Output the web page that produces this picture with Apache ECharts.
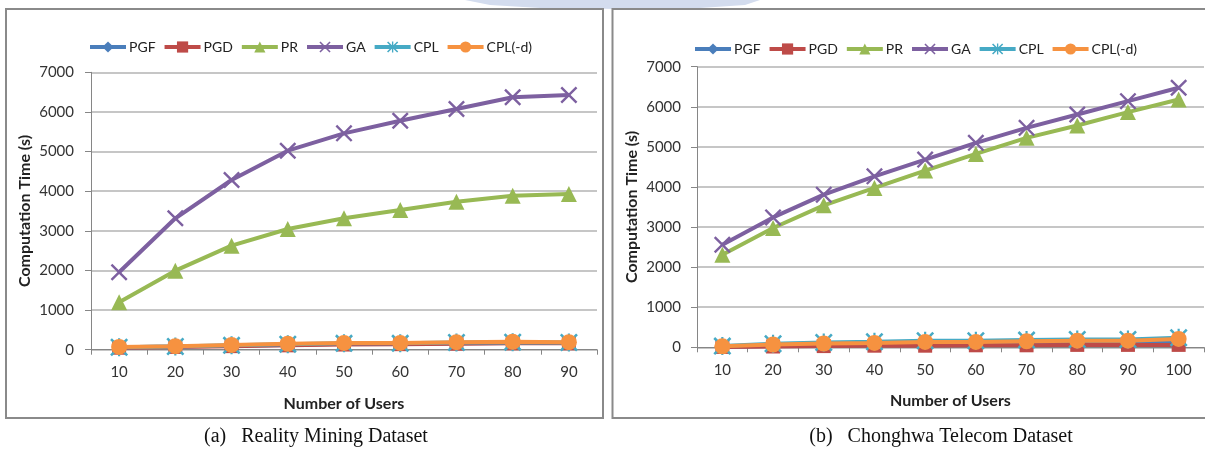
<!DOCTYPE html>
<html>
<head>
<meta charset="utf-8">
<script src="https://cdn.jsdelivr.net/npm/echarts@6/dist/echarts.min.js"></script>
<style>
  html, body { margin: 0; padding: 0; background: #fff; }
  #chart { width: 1205px; height: 452px; }
</style>
</head>
<body>
<div id="chart"></div>
<script>
// categories
var usersA = ['10', '20', '30', '40', '50', '60', '70', '80', '90']
var usersB = ['10', '20', '30', '40', '50', '60', '70', '80', '90', '100']
var seriesNames = ['PGF', 'PGD', 'PR', 'GA', 'CPL', 'CPL(-d)']

// (a) Reality Mining Dataset
var pgfA = [60, 80, 100, 120, 150, 150, 160, 170, 170]
var pgdA = [50, 70, 90, 110, 130, 140, 150, 160, 160]
var prA = [1196, 1994, 2625, 3046, 3316, 3525, 3735, 3886, 3929]
var gaA = [1953, 3316, 4282, 5022, 5460, 5779, 6074, 6369, 6427]
var cplA = [60, 80, 110, 140, 160, 160, 180, 190, 180]
var cpldA = [70, 90, 120, 150, 170, 170, 190, 200, 190]

// (b) Chonghwa Telecom Dataset
var pgfB = [10, 40, 60, 80, 100, 110, 120, 130, 140, 150]
var pgdB = [10, 20, 30, 40, 40, 50, 50, 60, 60, 60]
var prB = [2308, 2975, 3542, 3975, 4408, 4825, 5225, 5533, 5867, 6183]
var gaB = [2558, 3240, 3808, 4265, 4683, 5100, 5475, 5808, 6140, 6475]
var cplB = [30, 90, 120, 140, 165, 165, 180, 195, 195, 240]
var cpldB = [25, 70, 95, 110, 135, 135, 150, 165, 165, 210]

var yTicks = { min: 0, max: 7000, interval: 1000 }

var colors = ['#4A7EBB', '#BE4B48', '#98B954', '#7D60A0', '#46AAC5', '#F69240']
var crossPath = 'path://M0,1L1,0L5,4L9,0L10,1L6,5L10,9L9,10L5,6L1,10L0,9L4,5Z'
var starPath = 'path://M0,1L1,0L10,9L9,10Z M9,0L10,1L1,10L0,9Z M4.4,0L5.6,0L5.6,10L4.4,10Z'
var symbols = ['diamond', 'rect', 'triangle', crossPath, starPath, 'circle']
var symbolSizes = [13, 14, 16, 17, 18, 16]

var fontSans = 'Lato, "Open Sans", sans-serif'

function makeSeries(dataList, idx) {
  return dataList.map(function(d, i) {
    return {
      name: seriesNames[i],
      type: 'line',
      xAxisIndex: idx,
      yAxisIndex: idx,
      data: d,
      symbol: symbols[i],
      symbolSize: symbolSizes[i],
      showAllSymbol: true,
      lineStyle: { width: 4, color: colors[i] },
      itemStyle: { color: colors[i] },
      z: 2 + i
    }
  })
}

function makeX(cats, idx) {
  return {
    type: 'category',
    gridIndex: idx,
    data: cats,
    boundaryGap: true,
    name: 'Number of Users',
    nameLocation: 'middle',
    nameGap: 46,
    nameTextStyle: { fontFamily: fontSans, fontWeight: 'bold', fontSize: 16, color: '#222' },
    axisLine: { lineStyle: { color: '#868686', width: 1 } },
    axisTick: { show: true, length: 5, lineStyle: { color: '#868686' } },
    axisLabel: { margin: 15, fontFamily: fontSans, fontSize: 15, color: '#333' },
    splitLine: { show: false }
  }
}

function makeY(idx, labelMargin, nameGap) {
  return {
    type: 'value',
    gridIndex: idx,
    min: yTicks.min,
    max: yTicks.max,
    interval: yTicks.interval,
    name: 'Computation Time (s)',
    nameLocation: 'middle',
    nameGap: nameGap,
    nameTextStyle: { fontFamily: fontSans, fontWeight: 'bold', fontSize: 16, color: '#222' },
    axisLine: { show: true, lineStyle: { color: '#868686', width: 1 } },
    axisTick: { show: true, length: 6, lineStyle: { color: '#868686' } },
    axisLabel: {
      margin: labelMargin, fontFamily: fontSans, fontSize: 15, color: '#333',
      formatter: function(v) { return String(v) }
    },
    splitLine: { show: true, lineStyle: { color: '#b3b3b3', width: 1.5 } }
  }
}

function makeLegend(left, top) {
  return {
    left: left,
    top: top,
    itemWidth: 36,
    itemHeight: 14,
    itemGap: 7,
    data: seriesNames,
    lineStyle: { width: 4 },
    textStyle: { fontFamily: fontSans, fontSize: 14, color: '#222', padding: [0, 0, 0, -2] }
  }
}

var chart = echarts.init(document.getElementById('chart'))
chart.setOption({
  animation: false,
  color: colors,
  grid: [
    { left: 91, top: 72.3, width: 506, height: 277.4 },
    { left: 697, top: 66.7, width: 507, height: 280.6 }
  ],
  legend: [makeLegend(83, 35), makeLegend(688, 37)],
  xAxis: [makeX(usersA, 0), makeX(usersB, 1)],
  yAxis: [makeY(0, 17, 58), makeY(1, 16, 57)],
  series: makeSeries([pgfA, pgdA, prA, gaA, cplA, cpldA], 0)
    .concat(makeSeries([pgfB, pgdB, prB, gaB, cplB, cpldB], 1)),
  graphic: [
    {
      type: 'polygon', silent: true, z: -1,
      shape: { points: [[465, 0], [760, 0], [745, 5], [700, 8], [620, 9], [540, 8], [490, 5]] },
      style: { fill: '#d3dcee' }
    },
    {
      type: 'rect', silent: true, z: 0,
      shape: { x: 6, y: 9, width: 597, height: 409 },
      style: { fill: 'none', stroke: '#8a8a8a', lineWidth: 2 }
    },
    {
      type: 'rect', silent: true, z: 0,
      shape: { x: 612.5, y: 9, width: 600, height: 409 },
      style: { fill: 'none', stroke: '#8a8a8a', lineWidth: 2 }
    },
    {
      type: 'text', silent: true,
      style: {
        x: 316, y: 437, text: '(a)   Reality Mining Dataset',
        font: '20px "Liberation Serif", serif', fill: '#111',
        textAlign: 'center', textVerticalAlign: 'middle'
      }
    },
    {
      type: 'text', silent: true,
      style: {
        x: 941, y: 437, text: '(b)   Chonghwa Telecom Dataset',
        font: '20px "Liberation Serif", serif', fill: '#111',
        textAlign: 'center', textVerticalAlign: 'middle'
      }
    }
  ]
})
</script>
</body>
</html>
